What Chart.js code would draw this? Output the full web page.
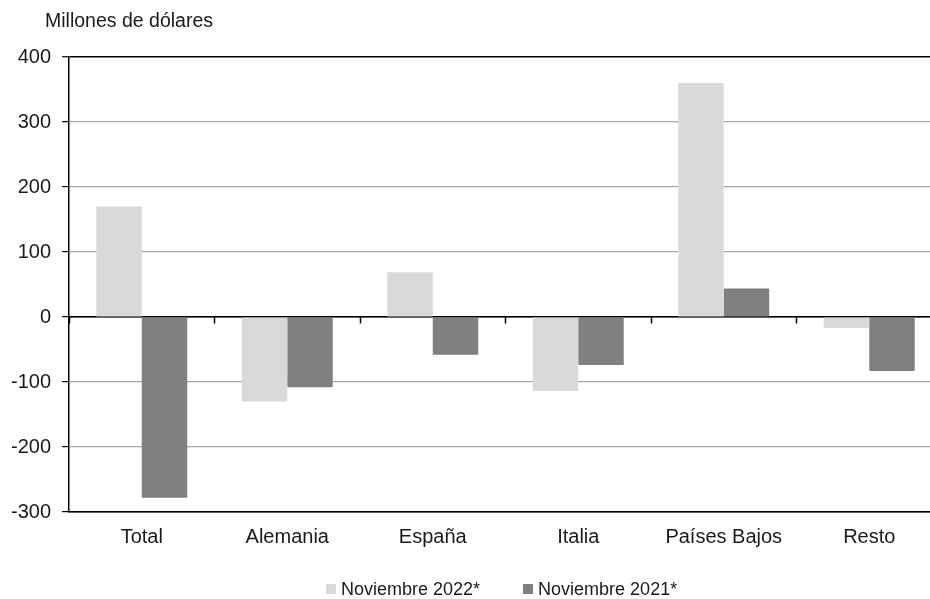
<!DOCTYPE html>
<html>
<head>
<meta charset="utf-8">
<script src="https://cdn.jsdelivr.net/npm/chart.js@4/dist/chart.umd.min.js"></script>
<style>
  html, body { margin: 0; padding: 0; background: #fff; overflow: hidden; }
  #wrap { width: 945px; height: 599px; position: relative; }
  #legend {
    position: absolute; left: 326px; top: 578px;
    display: flex; align-items: center;
    font: 18px 'Liberation Sans', Arial, Helvetica, sans-serif; color: #1a1a1a;
    line-height: 22px; white-space: nowrap;
  }
  #legend .item { display: flex; align-items: center; margin-right: 43px; }
  #legend .box { width: 10px; height: 10px; margin-right: 5px; }
</style>
</head>
<body>
<div id="wrap">
  <canvas id="chart"></canvas>
  <div id="legend"></div>
</div>
<script>
'use strict';

// Categorías y series (millones de dólares)
const categories = ['Total', 'Alemania', 'España', 'Italia', 'Países Bajos', 'Resto'];
const nov2022 = [170, -130, 69, -114, 360, -17];
const nov2021 = [-278, -108, -58, -74, 44, -83];
const seriesLabels = ['Noviembre 2022*', 'Noviembre 2021*'];
const unitLabel = 'Millones de dólares';

// Eje Y
const yMin = -300;
const yMax = 400;
const yStep = 100;

const FONT = "'Liberation Sans', Arial, Helvetica, sans-serif";
const TEXT = '#1a1a1a';

// Texto de unidades arriba a la izquierda
const unitPlugin = {
  id: 'unitLabel',
  afterDraw(chart) {
    const { ctx, chartArea } = chart;
    ctx.save();
    ctx.font = `19.5px ${FONT}`;
    ctx.fillStyle = TEXT;
    ctx.textBaseline = 'middle';
    ctx.fillText(unitLabel, chartArea.left - 24, 22);
    ctx.restore();
  },
};

const chart = new Chart(document.getElementById('chart'), {
  type: 'bar',
  data: {
    labels: categories,
    datasets: [
      {
        label: seriesLabels[0],
        data: nov2022,
        backgroundColor: '#d9d9d9',
        borderWidth: 0,
        categoryPercentage: 0.625,
        barPercentage: 1.0,
      },
      {
        label: seriesLabels[1],
        data: nov2021,
        backgroundColor: '#808080',
        borderWidth: 0,
        categoryPercentage: 0.625,
        barPercentage: 1.0,
      },
    ],
  },
  options: {
    responsive: true,
    maintainAspectRatio: false,
    animation: false,
    layout: { padding: { top: 57, left: 0, right: 3, bottom: 37 } },
    plugins: {
      legend: { display: false },
      tooltip: { enabled: false },
    },
    scales: {
      x: {
        position: 'bottom',
        grid: { display: false, drawTicks: false },
        border: { display: true, color: '#000', width: 1.5 },
        ticks: {
          font: { family: FONT, size: 20 },
          color: TEXT,
          padding: 13,
        },
      },
      x2: {
        type: 'category',
        labels: categories,
        position: { y: 0 },
        offset: true,
        z: 1,
        grid: {
          offset: true,
          drawOnChartArea: false,
          drawTicks: true,
          tickLength: 6,
          tickColor: '#000',
          tickWidth: 1.5,
        },
        border: { display: true, color: '#000', width: 1.5 },
        ticks: { display: false },
      },
      y: {
        min: yMin,
        max: yMax,
        ticks: {
          stepSize: yStep,
          font: { family: FONT, size: 20 },
          color: TEXT,
          padding: 11,
        },
        grid: {
          color(ctx) {
            const v = ctx.tick && ctx.tick.value;
            if (v === yMax || v === yMin || v === 0) return '#000';
            return '#a6a6a6';
          },
          lineWidth(ctx) {
            const v = ctx.tick && ctx.tick.value;
            if (v === yMax) return 1.5;
            return 1.2;
          },
          tickLength: 7,
          tickColor: '#000',
          tickWidth: 1.2,
        },
        border: { display: true, color: '#000', width: 1.5 },
      },
    },
  },
  plugins: [unitPlugin],
});

// Leyenda en HTML, generada a partir de los datasets
const legendEl = document.getElementById('legend');
chart.data.datasets.forEach(ds => {
  const item = document.createElement('span');
  item.className = 'item';
  const box = document.createElement('span');
  box.className = 'box';
  box.style.background = ds.backgroundColor;
  item.appendChild(box);
  item.appendChild(document.createTextNode(ds.label));
  legendEl.appendChild(item);
});
</script>
</body>
</html>
